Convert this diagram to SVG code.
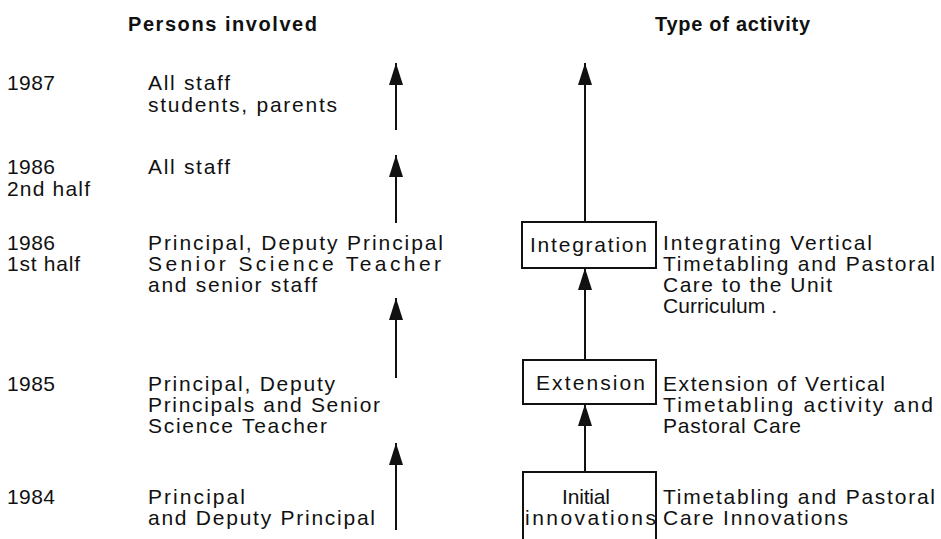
<svg xmlns="http://www.w3.org/2000/svg" width="941" height="539" viewBox="0 0 941 539">
<style>
text{font-family:"Liberation Sans",Arial,sans-serif;font-size:21px;fill:#111}
.h{font-weight:bold;font-size:20px}
.box{fill:none;stroke:#111;stroke-width:2}
.ar{stroke:#111;stroke-width:2;fill:none;marker-end:url(#ah)}
</style>
<defs>
<marker id="ah" markerUnits="userSpaceOnUse" markerWidth="24" markerHeight="16" refX="22" refY="7" orient="auto">
<path d="M0,0 L22,7 L0,14 Z" fill="#111"/>
</marker>
</defs>
<rect width="941" height="539" fill="#fff"/>
<g id="headers">
<text class="h" x="128" y="31" textLength="189">Persons involved</text>
<text class="h" x="655" y="31" textLength="155">Type of activity</text>
</g>
<g id="row1987">
<text x="7" y="90" textLength="48">1987</text>
<text x="148" y="90" textLength="82">All staff</text>
<text x="148" y="112" textLength="189">students, parents</text>
</g>
<g id="row1986b">
<text x="7" y="174" textLength="48">1986</text>
<text x="7" y="196" textLength="83">2nd half</text>
<text x="148" y="174" textLength="82">All staff</text>
</g>
<g id="row1986a">
<text x="7" y="250" textLength="48">1986</text>
<text x="7" y="271" textLength="73">1st half</text>
<text x="148" y="250" textLength="295">Principal, Deputy Principal</text>
<text x="148" y="271" textLength="293">Senior Science Teacher</text>
<text x="148" y="292" textLength="169">and senior staff</text>
</g>
<g id="row1985">
<text x="7" y="391" textLength="48">1985</text>
<text x="148" y="391" textLength="187">Principal, Deputy</text>
<text x="148" y="412" textLength="232">Principals and Senior</text>
<text x="148" y="433" textLength="179">Science Teacher</text>
</g>
<g id="row1984">
<text x="7" y="504" textLength="48">1984</text>
<text x="148" y="504" textLength="97">Principal</text>
<text x="148" y="525" textLength="227">and Deputy Principal</text>
</g>
<g id="integration">
<rect class="box" x="522" y="222" width="134" height="46"/>
<text x="530" y="252" textLength="117">Integration</text>
<text x="663" y="250" textLength="209">Integrating Vertical</text>
<text x="663" y="271" textLength="272">Timetabling and Pastoral</text>
<text x="663" y="292" textLength="169">Care to the Unit</text>
<text x="663" y="313" textLength="114">Curriculum .</text>
</g>
<g id="extension">
<rect class="box" x="523" y="360" width="133" height="44"/>
<text x="536" y="390" textLength="109">Extension</text>
<text x="663" y="391" textLength="222">Extension of Vertical</text>
<text x="663" y="412" textLength="270">Timetabling activity and</text>
<text x="663" y="433" textLength="138">Pastoral Care</text>
</g>
<g id="initial">
<path class="box" d="M523,545 V472 H656 V545"/>
<text x="562" y="504" textLength="48">Initial</text>
<text x="525" y="525" textLength="131">innovations</text>
<text x="663" y="504" textLength="272">Timetabling and Pastoral</text>
<text x="663" y="525" textLength="185">Care Innovations</text>
</g>
<g id="connectors">
<line class="ar" x1="396" y1="130" x2="396" y2="63"/>
<line class="ar" x1="396" y1="223" x2="396" y2="155"/>
<line class="ar" x1="396" y1="378" x2="396" y2="298"/>
<line class="ar" x1="396" y1="530" x2="396" y2="443"/>
<line class="ar" x1="585" y1="222" x2="585" y2="63"/>
<line class="ar" x1="585" y1="360" x2="585" y2="268"/>
<line class="ar" x1="585" y1="472" x2="585" y2="404"/>
</g>
</svg>
